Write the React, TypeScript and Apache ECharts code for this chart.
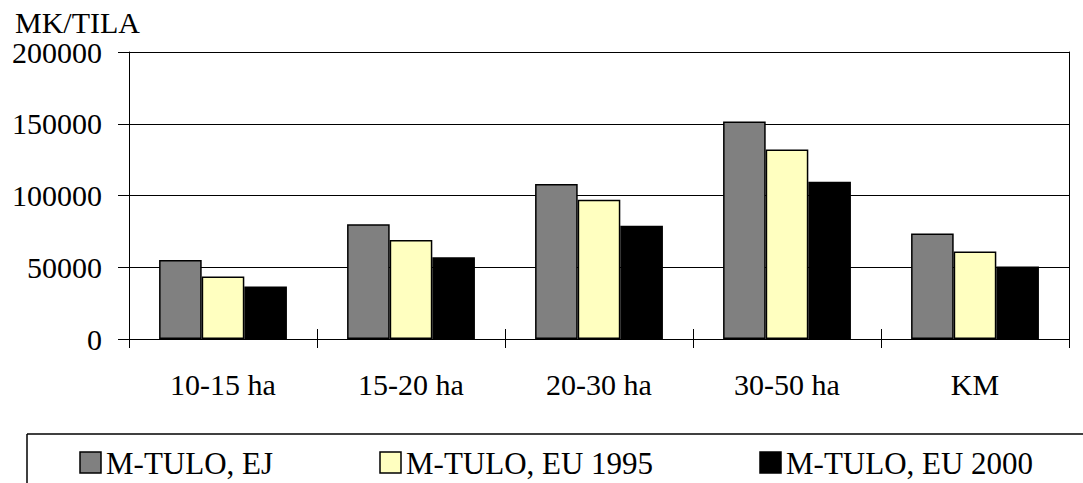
import React, { useEffect, useRef } from "react";
import * as echarts from "echarts";

const categories = ["10-15 ha", "15-20 ha", "20-30 ha", "30-50 ha", "KM"];
const seriesNames = ["M-TULO, EJ", "M-TULO, EU 1995", "M-TULO, EU 2000"];
const valuesEJ = [55000, 80000, 108000, 151500, 73500];
const valuesEU1995 = [43500, 69000, 97000, 132000, 61000];
const valuesEU2000 = [36500, 57000, 79000, 109500, 50500];
const seriesColors = ["#808080", "#FFFFC0", "#000000"];
const yTicks = { min: 0, max: 200000, interval: 50000 };
const yTitle = "MK/TILA";

const FONT = "Liberation Serif";
const legendX = [80, 380, 760];

export default function App() {
  const ref = useRef<HTMLDivElement>(null);
  useEffect(() => {
    if (!ref.current) return;
    const chart = echarts.init(ref.current, null, { renderer: "svg" });
    const data = [valuesEJ, valuesEU1995, valuesEU2000];
    const legendGraphics: any[] = [];
    seriesNames.forEach((n, i) => {
      legendGraphics.push({
        type: "rect",
        shape: { x: legendX[i], y: 452, width: 21, height: 21 },
        style: { fill: seriesColors[i], stroke: "#000", lineWidth: 1.5 },
      });
      legendGraphics.push({
        type: "text",
        x: legendX[i] + 26,
        y: 463,
        style: {
          text: n,
          fontFamily: FONT,
          fontSize: 31,
          fill: "#000",
          verticalAlign: "middle",
          align: "left",
        },
      });
    });
    chart.setOption({
      animation: false,
      grid: { left: 129, right: 14, top: 52, bottom: 144 },
      xAxis: [
        {
          type: "category",
          data: categories,
          position: "bottom",
          axisLine: { show: true, lineStyle: { color: "#000", width: 1 } },
          axisTick: { show: true, inside: false, length: 9, lineStyle: { color: "#000" } },
          axisLabel: { fontFamily: FONT, fontSize: 30, color: "#000", margin: 30 },
          splitLine: { show: false },
        },
        {
          type: "category",
          data: categories,
          position: "top",
          axisLine: { show: true, onZero: true, lineStyle: { color: "#000", width: 1 } },
          axisTick: { show: true, inside: false, length: 10, lineStyle: { color: "#000" } },
          axisLabel: { show: false },
          splitLine: { show: false },
        },
      ],
      yAxis: [
        {
          type: "value",
          min: yTicks.min,
          max: yTicks.max,
          interval: yTicks.interval,
          axisLine: { show: true, lineStyle: { color: "#000", width: 1 } },
          axisTick: { show: true, inside: false, length: 11, lineStyle: { color: "#000" } },
          axisLabel: {
            fontFamily: FONT,
            fontSize: 30,
            color: "#000",
            margin: 27,
            formatter: (v: number) => String(v),
          },
          splitLine: { show: true, lineStyle: { color: "#000", width: 1 } },
        },
        {
          type: "value",
          position: "right",
          min: yTicks.min,
          max: yTicks.max,
          interval: yTicks.interval,
          axisLine: { show: true, lineStyle: { color: "#000", width: 1 } },
          axisTick: { show: false },
          axisLabel: { show: false },
          splitLine: { show: false },
        },
      ],
      graphic: [
        {
          type: "text",
          left: 15,
          top: 7,
          style: { text: yTitle, fontFamily: FONT, fontSize: 30, fill: "#000" },
        },
        {
          type: "line",
          shape: { x1: 27, y1: 434, x2: 1083, y2: 434 },
          style: { stroke: "#000", lineWidth: 1.5 },
        },
        {
          type: "line",
          shape: { x1: 27, y1: 434, x2: 27, y2: 483 },
          style: { stroke: "#000", lineWidth: 1.5 },
        },
        ...legendGraphics,
      ],
      series: seriesNames.map((n, i) => ({
        name: n,
        type: "bar",
        data: data[i],
        barGap: "0%",
        barCategoryGap: "32%",
        itemStyle: { color: seriesColors[i], borderColor: "#000", borderWidth: 1.5 },
      })),
    });
    return () => chart.dispose();
  }, []);
  return (
    <>
      <style>{`#chart-root svg text { font-family: "Liberation Serif", "Times New Roman", serif !important; }`}</style>
      <div
        id="chart-root"
        ref={ref}
        style={{ width: 1083, height: 483, position: "absolute", left: 0, top: 0 }}
      />
    </>
  );
}
